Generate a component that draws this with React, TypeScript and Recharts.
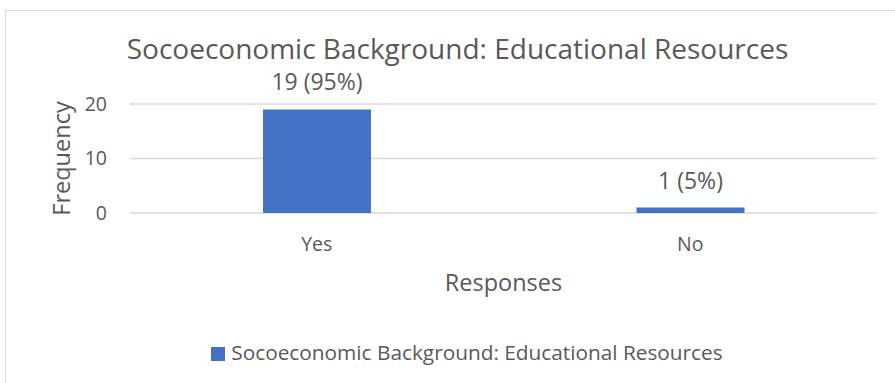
import { BarChart, Bar, XAxis, YAxis, CartesianGrid, Legend, LabelList } from "recharts";

const title = "Socoeconomic Background: Educational Resources";
const categories = ["Yes", "No"];
const counts = [19, 1];
const percents = [95, 5];
const yTicks = [0, 10, 20];

const data = categories.map((c, i) => ({
  response: c,
  value: counts[i],
  label: `${counts[i]} (${percents[i]}%)`,
}));

const FONT = "'Open Sans', sans-serif";
const TEXT = "#595959";
const BLUE = "#4472C4";
const GRID = "#D9D9D9";

export default function App() {
  return (
    <div
      style={{
        position: "absolute",
        left: 0,
        top: 0,
        width: 895,
        height: 383,
        overflow: "hidden",
        background: "#fff",
        fontFamily: FONT,
      }}
    >
      <div
        style={{
          position: "absolute",
          left: 5,
          top: 10,
          width: 920,
          height: 400,
          border: `1px solid ${GRID}`,
        }}
      />
      <div
        style={{
          position: "absolute",
          left: 10,
          top: 36,
          width: 895,
          textAlign: "center",
          fontSize: 28,
          lineHeight: "24px",
          color: TEXT,
          whiteSpace: "nowrap",
        }}
      >
        {title}
      </div>
      <div style={{ position: "absolute", left: 0, top: 0 }}>
        <BarChart
          width={895}
          height={383}
          data={data}
          margin={{ top: 104, right: 18, left: 50, bottom: 70 }}
        >
          <CartesianGrid stroke={GRID} strokeWidth={1.5} vertical={false} />
          <XAxis
            dataKey="response"
            height={100}
            axisLine={false}
            tickLine={false}
            tickSize={0}
            tickMargin={24}
            tick={{ fill: TEXT, fontSize: 19.5, fontFamily: FONT }}
            label={{
              value: "Responses",
              position: "center",
              dy: 20,
              fill: TEXT,
              fontSize: 23.5,
              fontFamily: FONT,
            }}
          />
          <YAxis
            width={80}
            domain={[0, 20]}
            ticks={yTicks}
            axisLine={false}
            tickLine={false}
            tickSize={0}
            tickMargin={23}
            tick={{ fill: TEXT, fontSize: 19.5, fontFamily: FONT }}
            label={{
              value: "Frequency",
              angle: -90,
              position: "center",
              dx: -28,
              fill: TEXT,
              fontSize: 23.5,
              fontFamily: FONT,
            }}
          />
          <Legend
            verticalAlign="middle"
            layout="horizontal"
            iconType="square"
            iconSize={14}
            wrapperStyle={{ top: 338, left: 39, width: 866, fontSize: 20.8, fontFamily: FONT }}
            formatter={(v) => <span style={{ color: TEXT, marginLeft: 2 }}>{v}</span>}
          />
          <Bar
            dataKey="value"
            name={title}
            fill={BLUE}
            barSize={108}
            isAnimationActive={false}
          >
            <LabelList
              dataKey="label"
              position="top"
              offset={19}
              fill={TEXT}
              fontSize={23}
              fontFamily={FONT}
            />
          </Bar>
        </BarChart>
      </div>
    </div>
  );
}
